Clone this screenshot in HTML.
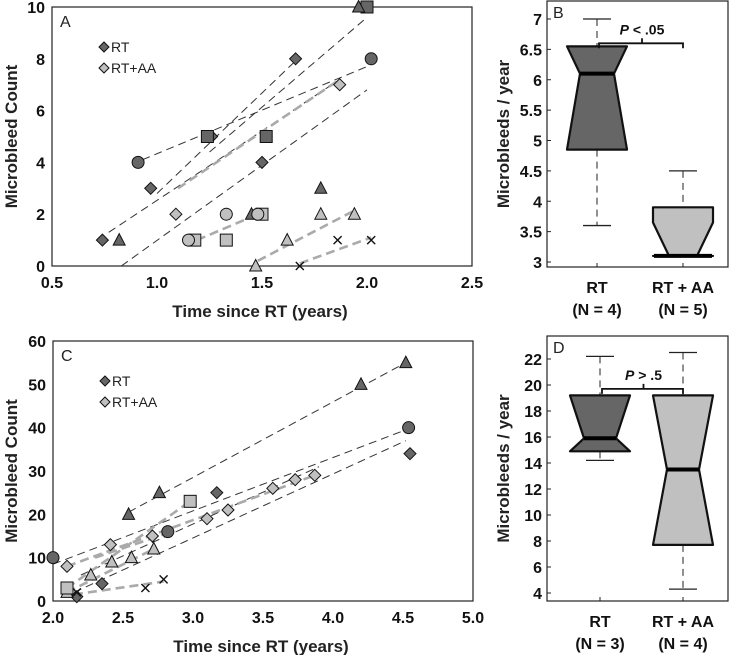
<!DOCTYPE html>
<html><head><meta charset="utf-8"><style>
html,body{margin:0;padding:0;background:#fff;}
svg{display:block;font-family:"Liberation Sans",Arial,sans-serif;}
.t{font-weight:bold;font-size:16px;fill:#111}
.ax{font-weight:bold;font-size:17px;fill:#222}
</style></head><body>
<svg id="fig" width="735" height="655" viewBox="0 0 735 655"></svg>
<script>
// ---- Panel A data ----
const aDarkDia=[[0.74,1],[0.97,3],[1.5,4],[1.66,8],[1.26,5]];
const aDarkCir=[[0.91,4],[2.02,8]];
const aDarkSq=[[1.24,5],[1.52,5],[2.0,10]];
const aDarkTri=[[0.82,1],[1.45,2],[1.78,3],[1.96,10]];
const aLightDia=[[1.09,2],[1.87,7]];
const aLightCir=[[1.15,1],[1.33,2],[1.48,2]];
const aLightSq=[[1.18,1],[1.33,1],[1.5,2]];
const aLightTri=[[1.47,0],[1.62,1],[1.78,2],[1.94,2]];
const aLightX=[[1.68,0],[1.86,1],[2.02,1]];
const aDarkLines=[[0.77,1.3,1.87,7.2],[0.83,0,2.0,6.8],[0.93,4.1,2.0,7.7],[1.0,2.8,1.67,8.0],[1.25,4.4,2.0,9.6]];
const aLightLines=[[1.1,3.0,1.87,7.2],[1.19,1.0,1.51,2.1],[1.48,0.2,1.93,2.1],[1.68,0.1,2.02,1.1]];
const aXTicks=["0.5","1.0","1.5","2.0","2.5"];
const aYTicks=["0","2","4","6","8","10"];
// ---- Panel C data ----
const cDarkDia=[[2.17,1],[2.35,4],[3.17,25],[4.55,34]];
const cDarkCir=[[2.0,10],[2.82,16],[4.54,40]];
const cDarkTri=[[2.54,20],[2.76,25],[4.2,50],[4.52,55]];
const cDarkX=[[2.66,3],[2.79,5],[2.17,2]];
const cLightDia=[[2.1,8],[2.41,13],[2.71,15],[3.1,19],[3.25,21],[3.57,26],[3.73,28],[3.87,29]];
const cLightTri=[[2.1,2],[2.27,6],[2.42,9],[2.56,10],[2.72,12]];
const cLightSq=[[2.1,3],[2.98,23]];
const cDarkLines=[[2.54,20.5,4.52,55],[2.0,8.5,4.52,39.5],[2.15,2,4.52,37],[2.2,6,3.9,31]];
const cLightLines=[[2.1,3,2.98,23],[2.1,8,3.87,29],[2.1,2,2.72,12],[2.15,1.5,2.79,4.5],[2.3,10,2.85,16]];
const cXTicks=["2.0","2.5","3.0","3.5","4.0","4.5","5.0"];
const cYTicks=["0","10","20","30","40","50","60"];
// ---- Box plot data ----
const bCats=["RT","RT + AA"];const bN=["(N = 4)","(N = 5)"];
const bQ1=[4.85,3.1];const bQ3=[6.55,3.9];const bMed=[6.1,3.1];const bLo=[3.6,3.1];const bHi=[7.0,4.5];
const bYTicks=["3","3.5","4","4.5","5","5.5","6","6.5","7"];
const dCats=["RT","RT + AA"];const dN=["(N = 3)","(N = 4)"];
const dQ1=[14.9,7.7];const dQ3=[19.2,19.2];const dMed=[15.9,13.5];const dLo=[14.2,4.3];const dHi=[22.2,22.5];
const dYTicks=["4","6","8","10","12","14","16","18","20","22"];

const NS="http://www.w3.org/2000/svg";
const svg=document.getElementById('fig');
function mk(tag,attrs,parent,text){const e=document.createElementNS(NS,tag);for(const k in attrs)e.setAttribute(k,attrs[k]);if(text!==undefined)e.textContent=text;(parent||svg).appendChild(e);return e;}
const DARK="#666",LIGHT="#c0c0c0";

function scatterPanel(o){
  const g=mk('g',{});
  
  
  const sx=v=>o.x0+(v-o.xmin)/(o.xmax-o.xmin)*(o.x1-o.x0);
  const sy=v=>o.y1-(v-o.ymin)/(o.ymax-o.ymin)*(o.y1-o.y0);
  const fr=mk('rect',{x:o.x0,y:o.y0,width:o.x1-o.x0,height:o.y1-o.y0,fill:'none',stroke:'#222','stroke-width':1.2},g);
  
  
  o.xt.forEach((t,i)=>{const v=parseFloat(t);const x=sx(v);
    const tk=mk('text',{x:x,y:o.y1+22,'text-anchor':'middle',class:'t'},g,t);
    
    });
  o.yt.forEach(t=>{const v=parseFloat(t);const y=sy(v);
    const tk=mk('text',{x:o.x0-7,y:y+6,'text-anchor':'end',class:'t'},g,t);
    
    });
  const xt=mk('text',{x:(o.x0+o.x1)/2-2,y:o.y1+51,'text-anchor':'middle',class:'ax'},g,'Time since RT (years)');
  
  
  const cy=(o.y0+o.y1)/2;
  const yt=mk('text',{x:17,y:cy,'text-anchor':'middle',class:'ax',transform:`rotate(-90 17 ${cy})`},g,'Microbleed Count');
  
  
  const pl=mk('text',{x:o.x0+8,y:o.y0+20,'font-size':'16px',fill:'#222'},g,o.letter);
  
  
  o.dl.forEach(l=>{const e=mk('line',{x1:sx(l[0]),y1:sy(l[1]),x2:sx(l[2]),y2:sy(l[3]),stroke:'#333','stroke-width':1,'stroke-dasharray':'8,5'},g);
    
    });
  o.ll.forEach(l=>{const e=mk('line',{x1:sx(l[0]),y1:sy(l[1]),x2:sx(l[2]),y2:sy(l[3]),stroke:'#aaa','stroke-width':2.6,'stroke-dasharray':'9,5'},g);
    
    });
  function mark(shape,fill,pts,nm){pts.forEach(p=>{const x=sx(p[0]),y=sy(p[1]);let e;
    if(shape==='dia')e=mk('polygon',{points:`${x},${y-6} ${x+6},${y} ${x},${y+6} ${x-6},${y}`,fill:fill,stroke:'#111','stroke-width':1},g);
    else if(shape==='cir')e=mk('circle',{cx:x,cy:y,r:6,fill:fill,stroke:'#111','stroke-width':1},g);
    else if(shape==='sq')e=mk('rect',{x:x-6,y:y-6,width:12,height:12,fill:fill,stroke:'#111','stroke-width':1},g);
    else if(shape==='tri')e=mk('polygon',{points:`${x},${y-6.5} ${x+6},${y+5} ${x-6},${y+5}`,fill:fill,stroke:'#111','stroke-width':1},g);
    else e=mk('path',{d:`M${x-4},${y-4}L${x+4},${y+4}M${x+4},${y-4}L${x-4},${y+4}`,stroke:'#111','stroke-width':1.4,fill:'none'},g);
    
    });}
  o.marks.forEach(m=>mark(m[0],m[1],m[2],m[3]));
  const lg=mk('g',{},g);
  
  
  [[DARK,'RT',o.y0+40],[LIGHT,'RT+AA',o.y0+61]].forEach(L=>{const x=o.x0+52,y=L[2];
    const e=mk('polygon',{points:`${x},${y-5} ${x+5},${y} ${x},${y+5} ${x-5},${y}`,fill:L[0],stroke:'#111','stroke-width':1},lg);
    
    
    const t=mk('text',{x:x+7,y:y+5,'font-size':'14px',fill:'#222'},lg,L[1]);
    
    });
}
scatterPanel({name:'panel-a',letter:'A',x0:52,x1:472,y0:7,y1:266,xmin:0.5,xmax:2.5,ymin:0,ymax:10,xt:aXTicks,yt:aYTicks,dl:aDarkLines,ll:aLightLines,
 marks:[['dia',DARK,aDarkDia,'rt-point'],['sq',DARK,aDarkSq,'rt-point'],['cir',DARK,aDarkCir,'rt-point'],['tri',DARK,aDarkTri,'rt-point'],
 ['dia',LIGHT,aLightDia,'rt-aa-point'],['sq',LIGHT,aLightSq,'rt-aa-point'],['cir',LIGHT,aLightCir,'rt-aa-point'],['tri',LIGHT,aLightTri,'rt-aa-point'],['x',LIGHT,aLightX,'rt-aa-point']]});
scatterPanel({name:'panel-c',letter:'C',x0:53,x1:473,y0:341,y1:601,xmin:2.0,xmax:5.0,ymin:0,ymax:60,xt:cXTicks,yt:cYTicks,dl:cDarkLines,ll:cLightLines,
 marks:[['dia',DARK,cDarkDia,'rt-point'],['cir',DARK,cDarkCir,'rt-point'],['tri',DARK,cDarkTri,'rt-point'],['x',DARK,cDarkX,'rt-point'],
 ['dia',LIGHT,cLightDia,'rt-aa-point'],['tri',LIGHT,cLightTri,'rt-aa-point'],['sq',LIGHT,cLightSq,'rt-aa-point']]});

function boxPanel(o){
  const g=mk('g',{});
  
  
  const sy=v=>o.yb-(v-o.ymin)/(o.ymax-o.ymin)*(o.yb-o.yt);
  const fr=mk('rect',{x:o.x0,y:o.y0,width:o.x1-o.x0,height:o.y1-o.y0,fill:'none',stroke:'#222','stroke-width':1.2},g);
  
  
  o.ticks.forEach(t=>{const y=sy(parseFloat(t));
    mk('line',{x1:o.x0,x2:o.x0+4,y1:y,y2:y,stroke:'#222'},g);
    const e=mk('text',{x:o.x0-5,y:y+6,'text-anchor':'end',class:'t'},g,t);
    
    });
  const cy=(o.y0+o.y1)/2;
  const yt=mk('text',{x:509,y:cy,'text-anchor':'middle',class:'ax',transform:`rotate(-90 509 ${cy})`},g,'Microbleeds / year');
  
  
  const pl=mk('text',{x:o.x0+6,y:o.y0+17,'font-size':'16px',fill:'#222'},g,o.letter);
  
  
  o.cats.forEach((c,i)=>{const cx=o.cx[i];const H=30,N=o.notch[i];const fill=i?LIGHT:DARK;
    mk('line',{x1:cx,x2:cx,y1:o.y1,y2:o.y1-4,stroke:'#222'},g);
    const w=mk('path',{d:`M${cx},${sy(o.hi[i])}V${sy(o.q3[i])}M${cx},${sy(o.q1[i])}V${sy(o.lo[i])}`,stroke:'#222','stroke-dasharray':'7,5',fill:'none'},g);
    
    
    [o.hi[i],o.lo[i]].forEach(v=>{const cap=mk('line',{x1:cx-14,x2:cx+14,y1:sy(v),y2:sy(v),stroke:'#222','stroke-width':1.3},g);
      
      });
    const nt=o.ntop[i],nb=o.nbot[i];
    const pts=[[cx-H,sy(o.q3[i])],[cx+H,sy(o.q3[i])],[cx+H,sy(nt)],[cx+N,sy(o.med[i])],[cx+H,sy(nb)],[cx+H,sy(o.q1[i])],[cx-H,sy(o.q1[i])],[cx-H,sy(nb)],[cx-N,sy(o.med[i])],[cx-H,sy(nt)]];
    const b=mk('polygon',{points:pts.map(p=>p.join(',')).join(' '),fill:fill,stroke:'#111','stroke-width':2.2,'stroke-linejoin':'round'},g);
    
    
    const mw=o.medW[i];
    const m=mk('line',{x1:cx-mw,x2:cx+mw,y1:sy(o.med[i]),y2:sy(o.med[i]),stroke:'#000','stroke-width':4},g);
    
    
    const l1=mk('text',{x:cx,y:o.y1+26,'text-anchor':'middle',class:'t'},g,c);
    
    
    const l2=mk('text',{x:cx,y:o.y1+48,'text-anchor':'middle',class:'t'},g,o.n[i]);
    
    });
  const by=sy(o.br);
  const br=mk('path',{d:`M${o.cx[0]+2},${by+5}V${by}H${o.cx[1]}V${by+5}M${(o.cx[0]+o.cx[1])/2+2},${by}V${by-5}`,stroke:'#111','stroke-width':1.8,fill:'none'},g);
  
  
  const pt=mk('text',{x:(o.cx[0]+o.cx[1])/2+2,y:by-9,'text-anchor':'middle','font-weight':'bold','font-size':'14px',fill:'#111'},g);
  
  
  mk('tspan',{'font-style':'italic'},pt,'P');
  mk('tspan',{},pt,o.p);
}
boxPanel({name:'panel-b',letter:'B',x0:547,x1:728,y0:1,y1:267,yt:19,yb:262,ymin:3,ymax:7,ticks:bYTicks,cats:bCats,n:bN,cx:[597,683],
 q1:bQ1,q3:bQ3,med:bMed,lo:bLo,hi:bHi,notch:[17,14],ntop:[6.55,3.65],nbot:[4.85,3.1],medW:[17,29],br:6.6,p:' < .05'});
boxPanel({name:'panel-d',letter:'D',x0:547,x1:728,y0:336,y1:601,yt:359,yb:593,ymin:4,ymax:22,ticks:dYTicks,cats:dCats,n:dN,cx:[600,683],
 q1:dQ1,q3:dQ3,med:dMed,lo:dLo,hi:dHi,notch:[16,16],ntop:[19.2,19.2],nbot:[14.9,7.7],medW:[16,16],br:19.7,p:' > .5'});
</script>
</body></html>
